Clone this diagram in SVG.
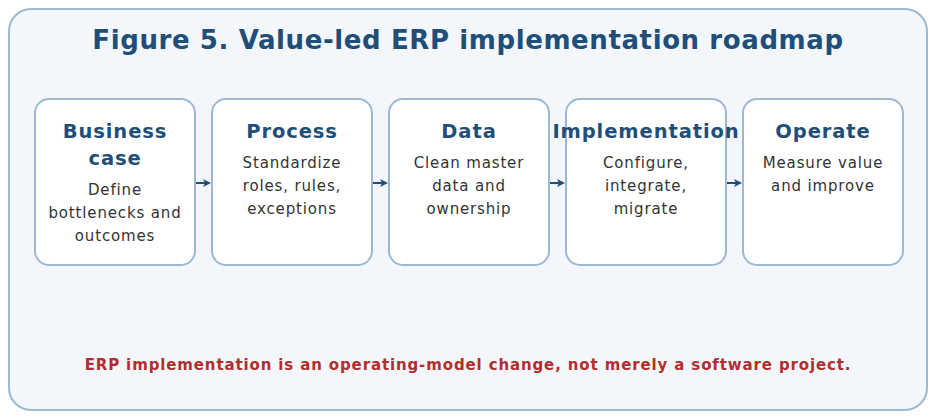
<svg xmlns="http://www.w3.org/2000/svg" width="936" height="420" viewBox="0 0 936 420">
<style>
.frame{fill:#f3f7fc;stroke:#9cb9d1;stroke-width:2}
.box{fill:#ffffff;stroke:#9cb9d1;stroke-width:2}
.t{font-family:"DejaVu Sans",sans-serif;font-weight:bold;font-size:19.5px;fill:#1f4e79;text-anchor:middle;letter-spacing:0.9px}
.d{font-family:"DejaVu Sans",sans-serif;font-size:15px;fill:#333333;text-anchor:middle;letter-spacing:0.85px}
.title{font-family:"DejaVu Sans",sans-serif;font-weight:bold;font-size:26px;fill:#1f4e79;text-anchor:middle;letter-spacing:0.6px}
.foot{font-family:"DejaVu Sans",sans-serif;font-weight:bold;font-size:15px;fill:#b22e2e;text-anchor:middle;letter-spacing:0.87px}
.c{stroke:#1f4e79;stroke-width:2;fill:none}
</style>
<defs>
<marker id="ah" markerWidth="8" markerHeight="8" refX="6" refY="4" orient="auto" markerUnits="userSpaceOnUse">
<path d="M0,0 L8,4 L0,8 L2,4 Z" fill="#1f4e79"/>
</marker>
</defs>
<rect class="frame" x="9" y="9" width="918" height="401" rx="22"/>
<text class="title" x="468" y="49">Figure 5. Value-led ERP implementation roadmap</text>
<g id="connectors">
<line class="c" x1="196" y1="183" x2="209" y2="183" marker-end="url(#ah)"/>
<line class="c" x1="373" y1="183" x2="386" y2="183" marker-end="url(#ah)"/>
<line class="c" x1="550" y1="183" x2="563" y2="183" marker-end="url(#ah)"/>
<line class="c" x1="727" y1="183" x2="740" y2="183" marker-end="url(#ah)"/>
</g>
<g id="n1">
<rect class="box" x="35" y="99" width="160" height="166" rx="14"/>
<text class="t" x="115" y="138">Business</text>
<text class="t" x="115" y="165">case</text>
<text class="d" x="115" y="195">Define</text>
<text class="d" x="115" y="218">bottlenecks and</text>
<text class="d" x="115" y="241">outcomes</text>
</g>
<g id="n2">
<rect class="box" x="212" y="99" width="160" height="166" rx="14"/>
<text class="t" x="292" y="138">Process</text>
<text class="d" x="292" y="168">Standardize</text>
<text class="d" x="292" y="191">roles, rules,</text>
<text class="d" x="292" y="214">exceptions</text>
</g>
<g id="n3">
<rect class="box" x="389" y="99" width="160" height="166" rx="14"/>
<text class="t" x="469" y="138">Data</text>
<text class="d" x="469" y="168">Clean master</text>
<text class="d" x="469" y="191">data and</text>
<text class="d" x="469" y="214">ownership</text>
</g>
<g id="n4">
<rect class="box" x="566" y="99" width="160" height="166" rx="14"/>
<text class="t" x="646" y="138">Implementation</text>
<text class="d" x="646" y="168">Configure,</text>
<text class="d" x="646" y="191">integrate,</text>
<text class="d" x="646" y="214">migrate</text>
</g>
<g id="n5">
<rect class="box" x="743" y="99" width="160" height="166" rx="14"/>
<text class="t" x="823" y="138">Operate</text>
<text class="d" x="823" y="168">Measure value</text>
<text class="d" x="823" y="191">and improve</text>
</g>
<text class="foot" x="468" y="370">ERP implementation is an operating-model change, not merely a software project.</text>
</svg>
